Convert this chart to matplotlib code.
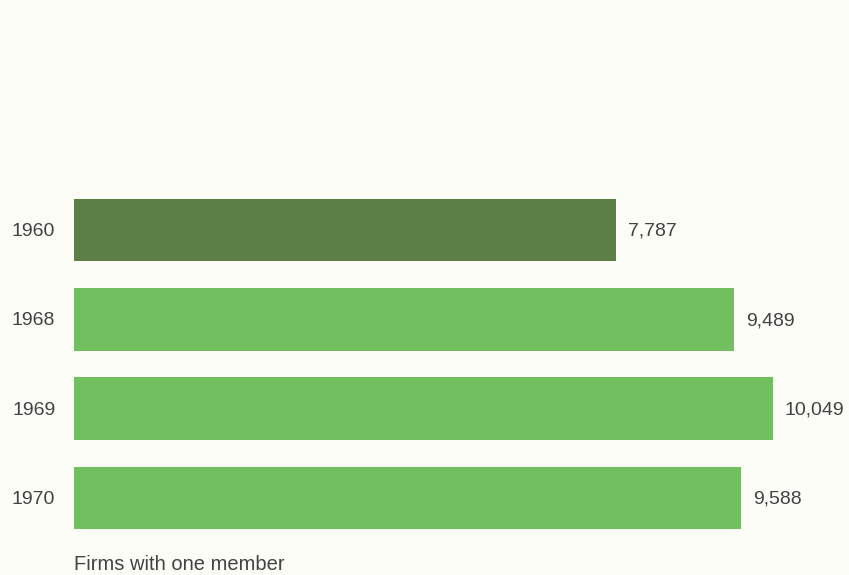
import matplotlib
matplotlib.use("Agg")
import matplotlib.pyplot as plt

years = ["1960", "1968", "1969", "1970"]
firms = [7787, 9489, 10049, 9588]
value_labels = ["7,787", "9,489", "10,049", "9,588"]
caption = "Firms with one member"

bar_colors = ["#5b7f46", "#72bf5f", "#72bf5f", "#72bf5f"]
text_color = "#424242"
paper = "#fdfdf8"

plt.rcParams["font.family"] = ["Liberation Sans", "DejaVu Sans"]

fig = plt.figure(figsize=(8.49, 5.75), dpi=100, facecolor=paper)
ax = fig.add_axes([74 / 849, 0, 775 / 849, 1])
ax.set_facecolor(paper)

pos = list(range(len(years)))
ax.barh(pos, firms, height=0.70, color=bar_colors, edgecolor="none")

ax.set_xlim(0, 11141)
ax.set_ylim(3.862, -2.575)
ax.axis("off")

for i, (yr, v, lab) in enumerate(zip(years, firms, value_labels)):
    ax.annotate(yr, xy=(0, i), xytext=(-13.5, -1), textcoords="offset points",
                ha="right", va="center", fontsize=14, color=text_color)
    ax.annotate(lab, xy=(v, i), xytext=(8.6, -1), textcoords="offset points",
                ha="left", va="center", fontsize=14, color=text_color)

ax.text(0, 3.74, caption, ha="left", va="center", fontsize=14.5,
        color=text_color)

fig.savefig("out.png", dpi=100, facecolor=paper)
